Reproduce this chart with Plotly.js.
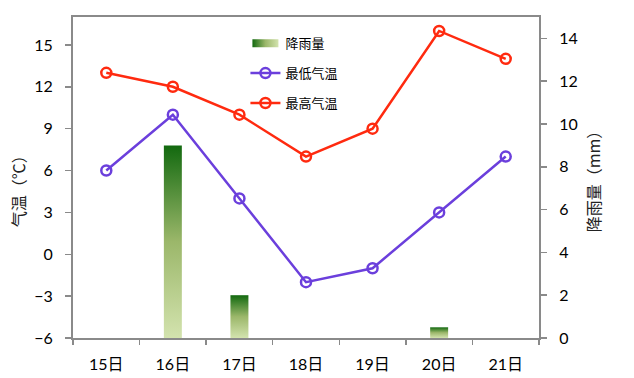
<!DOCTYPE html>
<html><head><meta charset="utf-8">
<script src="https://cdn.plot.ly/plotly-3.0.1.min.js"></script>
<style>html,body{margin:0;padding:0;background:#fff}</style>
</head><body><div id="chart" style="width:634px;height:378px"></div>
<script>
const days = ['15日','16日','17日','18日','19日','20日','21日'];
const rainfall = [null, 9, 2, null, null, 0.5, null];
const lowTemp = [6, 10, 4, -2, -1, 3, 7];
const highTemp = [13, 12, 10, 7, 9, 16, 14];
const leftTicks = [-6, -3, 0, 3, 6, 9, 12, 15];
const rightTicks = [0, 2, 4, 6, 8, 10, 12, 14];
const leftTitle = '气温（℃）';
const rightTitle = '降雨量（mm）';

const FONT = 'Lato, "Noto Sans CJK SC", sans-serif';
const CJK = '"Noto Sans CJK SC", sans-serif';
const AXC = '#8a8a8a';

const traces = [
  {type:'bar', name:'降雨量', x:days, y:rainfall, yaxis:'y2', width:0.27,
   marker:{color:'#7aa24e', line:{width:0}}, legendgroup:'a', hoverinfo:'skip'},
  {type:'scatter', mode:'lines+markers', name:'最低气温', x:days, y:lowTemp, legendgroup:'b',
   line:{color:'#6b3fdc', width:2.5},
   marker:{symbol:'circle-open', size:10, color:'#6b3fdc', line:{width:2.5, color:'#6b3fdc'}}},
  {type:'scatter', mode:'lines+markers', name:'最高气温', x:days, y:highTemp, legendgroup:'c',
   line:{color:'#ff2a0f', width:2.5},
   marker:{symbol:'circle-open', size:10, color:'#ff2a0f', line:{width:2.5, color:'#ff2a0f'}}}
];

const layout = {
  width:634, height:378,
  margin:{l:73, r:95, t:17, b:40},
  paper_bgcolor:'#fff', plot_bgcolor:'#fff',
  font:{family:FONT, size:16, color:'#000'},
  showlegend:true,
  legend:{x:0.37, y:0.965, xanchor:'left', yanchor:'top', bgcolor:'rgba(0,0,0,0)',
          font:{size:13, family:CJK, color:'#000'}, tracegroupgap:10, itemwidth:30},
  xaxis:{type:'category', showline:true, linecolor:AXC, linewidth:2, mirror:true,
         ticks:'outside', tickson:'boundaries', ticklen:5, tickcolor:AXC, tickwidth:1.5,
         showgrid:false, zeroline:false, fixedrange:true,
         tickfont:{size:16, family:FONT}, ticklabelstandoff:11},
  yaxis:{range:[-6, 17], tickvals:leftTicks, showline:true, linecolor:AXC, linewidth:2,
         ticks:'outside', ticklen:6, tickcolor:AXC, tickwidth:1.5,
         showgrid:false, zeroline:false, ticklabelstandoff:9,
         tickfont:{size:16, family:FONT}},
  yaxis2:{range:[0, 15], tickvals:rightTicks, overlaying:'y', side:'right', showline:true,
          linecolor:AXC, linewidth:2, ticks:'outside', ticklen:6, tickcolor:AXC, tickwidth:1.5,
          showgrid:false, zeroline:false, ticklabelstandoff:9,
          tickfont:{size:16, family:FONT},
          title:{text:rightTitle, font:{size:16, family:CJK, color:'#222'}, standoff:12}},
  annotations:[
    {text:leftTitle, xref:'paper', yref:'paper', x:0, y:0.47, xanchor:'center', yanchor:'middle',
     xshift:-55, textangle:-90, showarrow:false, font:{size:16, family:CJK, color:'#222'}}
  ]
};

Plotly.newPlot('chart', traces, layout, {displayModeBar:false, staticPlot:true}).then(function(gd){
  const NS = 'http://www.w3.org/2000/svg';
  const svg = gd.querySelector('svg.main-svg');
  let defs = svg.querySelector('defs');
  if(!defs){ defs = document.createElementNS(NS,'defs'); svg.insertBefore(defs, svg.firstChild); }
  function grad(id, x2, y2, stops){
    const g = document.createElementNS(NS,'linearGradient');
    g.setAttribute('id', id);
    g.setAttribute('x1','0'); g.setAttribute('y1','0');
    g.setAttribute('x2', x2); g.setAttribute('y2', y2);
    stops.forEach(function(s){
      const st = document.createElementNS(NS,'stop');
      st.setAttribute('offset', s[0]); st.setAttribute('stop-color', s[1]);
      g.appendChild(st);
    });
    defs.appendChild(g);
  }
  const stops = [['0%','#12690f'],['50%','#9bb76a'],['100%','#d3e3ae']];
  grad('rainGradV','0','1', stops);
  grad('rainGradH','1','0', stops);
  gd.querySelectorAll('.barlayer .point path').forEach(function(p){
    p.style.fill = 'url(#rainGradV)';
  });
  const leg = gd.querySelectorAll('.legend .traces')[0];
  if(leg){
    const lp = leg.querySelector('.legendpoints path');
    if(lp){ lp.setAttribute('d','M-13,-4h26v8h-26Z'); lp.style.fill='url(#rainGradH)'; lp.style.stroke='none'; }
  }
});
</script></body></html>
